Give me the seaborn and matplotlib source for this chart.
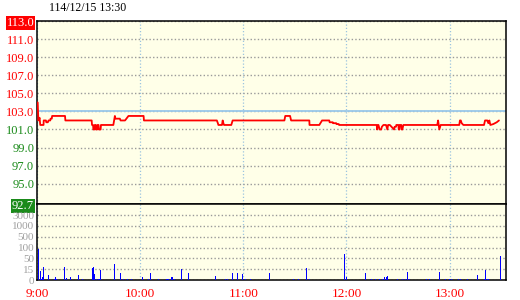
import numpy as np
import pandas as pd
import matplotlib
matplotlib.use("Agg")
import matplotlib.pyplot as plt
import seaborn as sns

# ---------------- data ----------------
title_text = "114/12/15 13:30"
ref_price = 103.0
limit_up = 113.0
limit_down = 92.7

# price trace: minutes after 9:00, price
price_t = [0.4, 0.8, 1.5, 1.9, 3.8, 3.9, 5.2, 5.4, 6.3, 6.7, 7.7, 7.9, 8.6, 8.8, 16.3, 16.5,
           31.8, 32.0, 32.6, 32.8, 33.4, 33.6, 34.2, 34.4, 35.0, 35.2, 35.8, 36.0, 37.0, 37.2,
           44.4, 45.3, 45.6, 48.2, 48.6, 51.2, 53.2, 62.0, 62.2,
           104.6, 105.2, 105.5, 107.6, 108.0, 108.4, 108.8, 113.0, 113.8,
           143.9, 144.4, 147.2, 147.8, 158.4, 158.5, 164.2, 165.8, 170.0, 170.2, 172.0, 172.2,
           174.0, 174.2, 175.5, 175.7,
           197.6, 197.8, 198.4, 198.6, 199.3, 200.2, 200.6, 201.5, 203.0, 203.8, 204.2, 205.2,
           206.2, 207.7, 208.0, 208.8, 209.0, 210.2, 210.4, 210.8, 211.0, 211.9, 212.1, 212.5,
           213.1, 232.8, 233.3, 234.0, 234.8, 245.6, 246.0, 246.5, 247.0, 248.0, 260.0, 260.6,
           261.9, 262.5, 263.1, 263.7, 265.4, 266.4, 267.4, 268.7]
price_v = [104.0, 102.0, 102.3, 101.5, 101.5, 102.0, 102.0, 101.8, 101.8, 102.0, 102.0, 102.2, 102.2, 102.5, 102.5, 102.0,
           102.0, 101.5, 101.5, 101.0, 101.0, 101.5, 101.5, 101.0, 101.0, 101.5, 101.5, 101.0, 101.0, 101.5,
           101.5, 102.5, 102.2, 102.2, 102.0, 102.0, 102.5, 102.5, 102.0,
           102.0, 101.7, 101.5, 101.5, 102.0, 101.7, 101.5, 101.5, 102.0,
           102.0, 102.5, 102.5, 102.0, 102.0, 101.5, 101.5, 102.0, 102.0, 101.8, 101.8, 101.7,
           101.7, 101.6, 101.6, 101.5,
           101.5, 101.0, 101.5, 101.5, 101.0, 101.0, 101.3, 101.5, 101.5, 101.0, 101.5, 101.5,
           101.3, 101.0, 101.3, 101.3, 101.5, 101.5, 101.0, 101.0, 101.5, 101.5, 101.0, 101.0,
           101.5, 101.5, 102.0, 101.0, 101.5, 101.5, 102.0, 102.0, 101.7, 101.5, 101.5, 102.0,
           102.0, 101.7, 102.0, 101.5, 101.6, 101.7, 101.8, 102.0]

# volume bars: minutes after 9:00, volume
vol_t = [0.8, 2.0, 2.5, 3.1, 3.7, 6.6, 10.3, 10.9, 11.5, 16.1, 17.3, 19.4, 24.2, 26.6,
         32.4, 33.0, 33.5, 34.7, 35.9, 36.5, 37.0, 45.2, 48.7, 50.4, 52.7, 55.1, 61.5,
         64.9, 66.1, 70.5, 75.4, 76.3, 78.6, 79.8, 84.1, 88.2, 103.9, 109.7, 110.9, 113.8,
         116.7, 119.6, 121.3, 124.2, 135.3, 149.2, 152.1, 156.8, 158.5, 178.9, 180.1, 191.1,
         194.6, 196.9, 199.2, 201.0, 202.1, 203.3, 203.9, 209.7, 212.6, 214.4, 215.5, 216.7,
         226.6, 228.3, 234.1, 237.6, 239.9, 241.0, 245.2, 246.3, 250.4, 256.2, 260.3, 260.9,
         262.0, 262.6, 269.6]
vol_v = [93, 13, 2, 4, 22, 7, 1, 4, 1, 22, 3, 4, 7, 1,
         19, 22, 8, 1, 1, 1, 14, 32, 10, 1, 1, 1, 4,
         1, 10, 2, 2, 1, 4, 1, 16, 10, 6, 1, 1, 10,
         10, 8, 1, 1, 10, 2, 1, 19, 2, 70, 4, 10,
         1, 2, 1, 1, 4, 4, 6, 1, 1, 1, 11, 2,
         2, 1, 11, 1, 1, 2, 1, 2, 1, 7, 1, 14,
         2, 1, 61]

price_ticks = [113.0, 111.0, 109.0, 107.0, 105.0, 103.0, 101.0, 99.0, 97.0, 95.0, 92.7]
vol_levels = [0, 15, 50, 100, 500, 1000, 3000, 5000]
vol_ticks = [0, 15, 50, 100, 500, 1000, 3000]
time_ticks = [0, 60, 120, 180, 240]
time_labels = ["9:00", "10:00", "11:00", "12:00", "13:00"]

# ---------------- style ----------------
sns.set_style("white")
plt.rcParams["font.family"] = ["Liberation Serif", "DejaVu Serif"]

W, H = 520, 300
fig = plt.figure(figsize=(W / 100, H / 100), dpi=100)
fig.patch.set_facecolor("white")

L, R = 37, 505.5
T1, B1, B2 = 21.3, 204.3, 280.0
axp = fig.add_axes([L / W, 1 - B1 / H, (R - L) / W, (B1 - T1) / H])
axv = fig.add_axes([L / W, 1 - B2 / H, (R - L) / W, (B2 - B1) / H], sharex=axp)

bg = "#ffffe8"
RED = "#ff0000"
GREEN = "#1a8a1a"
GRID = "#9a9a9a"
VGRID = "#9cc4e0"

for ax in (axp, axv):
    ax.set_facecolor(bg)
    for s in ax.spines.values():
        s.set_color("black")
        s.set_linewidth(1.1)
        s.set_visible(True)
    ax.set_axisbelow(True)

# price panel
df_p = pd.DataFrame({"t": price_t, "p": price_v})
axp.axhline(ref_price, color="#99c8ea", lw=1.3, zorder=1)
sns.lineplot(data=df_p, x="t", y="p", ax=axp, color="#ff0000", lw=1.3,
             estimator=None, sort=False, zorder=3)
axp.set_ylim(limit_down, limit_up)
axp.set_xlim(0, 272.5)
axp.set_yticks(price_ticks)
axp.set_yticklabels([f"{v:.1f}" for v in price_ticks])
axp.set_xticks(time_ticks)
axp.tick_params(axis="x", labelbottom=False, length=0)
axp.tick_params(axis="y", length=0, pad=2, labelsize=9)
axp.grid(axis="y", color=GRID, lw=1.0, linestyle=(0, (1, 1.6)))
axp.grid(axis="x", color=VGRID, lw=0.9, linestyle=(0, (1, 1.6)))
axp.set_xlabel("")
axp.set_ylabel("")
for lab, v in zip(axp.get_yticklabels(), price_ticks):
    if v == limit_up:
        lab.set_color("white")
        lab.set_bbox(dict(facecolor=RED, edgecolor="none", pad=0.6))
    elif v == limit_down:
        lab.set_color("white")
        lab.set_bbox(dict(facecolor=GREEN, edgecolor="none", pad=0.8))
    elif v >= ref_price:
        lab.set_color(RED)
    else:
        lab.set_color(GREEN)

# volume panel with piecewise scale
lv = np.array(vol_levels, dtype=float)
li = np.arange(len(vol_levels), dtype=float)

def fwd(v):
    return np.interp(v, lv, li)

def inv(i):
    return np.interp(i, li, lv)

axv.set_yscale("function", functions=(fwd, inv))
axv.bar(vol_t, vol_v, width=0.8, color="#0000ff", linewidth=0, antialiased=False, zorder=3)
axv.set_ylim(0, vol_levels[-1])
axv.set_yticks(vol_ticks)
axv.set_yticklabels([str(v) for v in vol_ticks])
axv.yaxis.set_minor_locator(matplotlib.ticker.NullLocator())
axv.tick_params(axis="y", length=0, pad=2, labelsize=8, labelcolor="#a0a0a0")
axv.set_xticks(time_ticks)
axv.set_xticklabels(time_labels)
axv.tick_params(axis="x", length=0, pad=6, labelsize=9.5, labelcolor=RED)
axv.grid(axis="y", color=GRID, lw=1.0, linestyle=(0, (1, 1.6)))
axv.grid(axis="x", color=VGRID, lw=0.9, linestyle=(0, (1, 1.6)))
axv.set_xlim(0, 272.5)

fig.text(49 / W, 1 - 8 / H, title_text, ha="left", va="center", fontsize=8.5, color="black")

fig.savefig("out.png", dpi=100, facecolor="white")
